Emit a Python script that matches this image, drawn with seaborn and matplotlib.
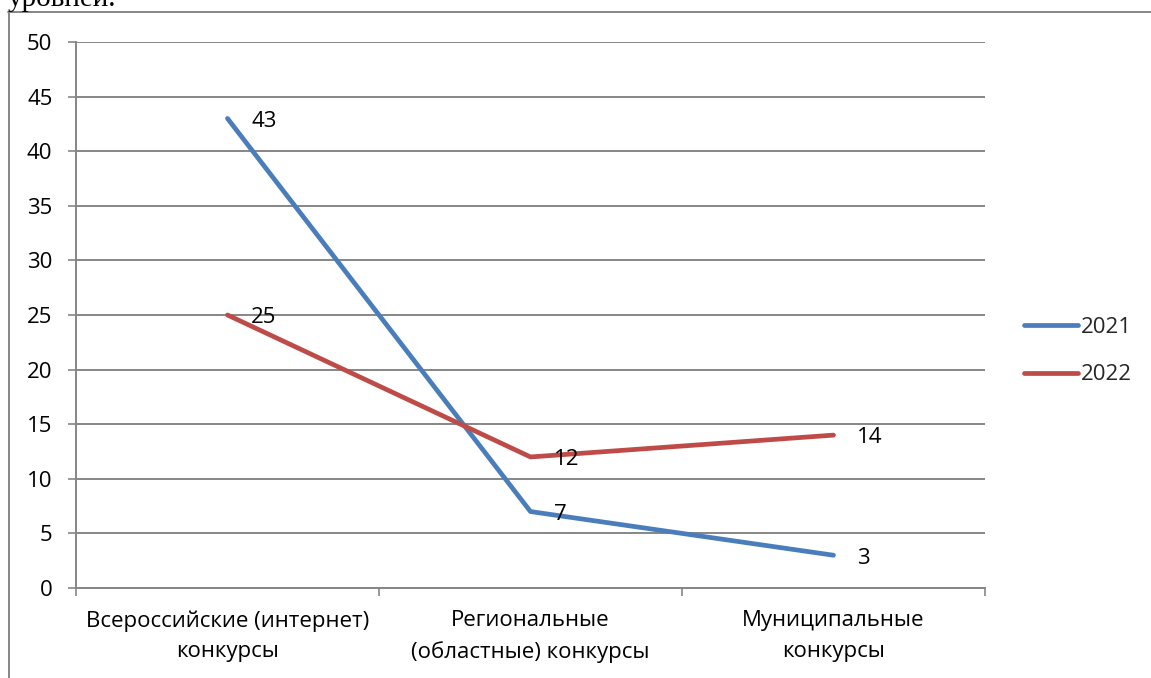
import matplotlib
matplotlib.use("Agg")
import matplotlib.pyplot as plt
import seaborn as sns
import pandas as pd
from matplotlib.lines import Line2D
from matplotlib.ticker import FixedLocator

categories = ["Всероссийские (интернет)\nконкурсы", "Региональные\n(областные) конкурсы", "Муниципальные\nконкурсы"]
series_2021 = [43, 7, 3]
series_2022 = [25, 12, 14]
series_names = ["2021", "2022"]
y_ticks = [0, 5, 10, 15, 20, 25, 30, 35, 40, 45, 50]

sns.set_theme(style="white")
plt.rcParams['font.family'] = ['Open Sans', 'DejaVu Sans']

df = pd.DataFrame({
    "cat": categories * 2,
    "val": series_2021 + series_2022,
    "year": [series_names[0]] * 3 + [series_names[1]] * 3,
})

colors = {"2021": "#4A7EBB", "2022": "#BE4B48"}
grid_c = "#868686"
fs = 16

fig = plt.figure(figsize=(11.51, 6.78), dpi=100)
ax = fig.add_axes([76/1151, 1-588/678, (985-76)/1151, (588-42)/678])

sns.lineplot(data=df, x="cat", y="val", hue="year", palette=colors, linewidth=3.4,
             ax=ax, legend=False, sort=False)

ax.set_xlim(-0.5, 2.5)
ax.set_ylim(0, 50)
ax.set_yticks(y_ticks)
ax.set_yticklabels([str(t) for t in y_ticks], fontsize=fs, color="black")
ax.grid(axis="y", color=grid_c, linewidth=1.4)
ax.set_axisbelow(True)
ax.tick_params(axis="y", length=6, width=1.2, color=grid_c, pad=11, left=True)
ax.set_xticks([0, 1, 2])
ax.set_xticklabels(categories, fontsize=fs, color="black", linespacing=1.6)
ax.tick_params(axis="x", which="major", length=0, pad=16)
ax.xaxis.set_minor_locator(FixedLocator([-0.5, 0.5, 1.5, 2.5]))
ax.tick_params(axis="x", which="minor", length=6, width=1.2, color=grid_c, bottom=True)
ax.set_xlabel("")
ax.set_ylabel("")
for s in ["top", "right"]:
    ax.spines[s].set_visible(False)
for s in ["left", "bottom"]:
    ax.spines[s].set_color(grid_c)
    ax.spines[s].set_linewidth(1.4)

for vals in (series_2021, series_2022):
    for i, v in enumerate(vals):
        ax.annotate(str(v), (i, v), xytext=(17, -2), textcoords="offset points",
                    fontsize=fs, va="center", ha="left", color="black")

handles = [Line2D([], [], color=colors[n], linewidth=3.4, solid_capstyle="round") for n in series_names]
fig.legend(handles, series_names, loc="center left", bbox_to_anchor=(1004/1151, 1-351/678),
           frameon=False, fontsize=fs, handlelength=2.45, handletextpad=0.1, labelspacing=1.2)

# outer frame lines
fig.add_artist(Line2D([8/1151, 1], [1-12/678, 1-12/678], color=grid_c, linewidth=1.4, transform=fig.transFigure))
fig.add_artist(Line2D([9/1151, 9/1151], [0, 1-12/678], color=grid_c, linewidth=1.4, transform=fig.transFigure))
fig.text(8/1151, 1-6/678, "уровней.", fontsize=21, family="Liberation Serif", va="baseline", ha="left", color="black")

fig.savefig("out.png", dpi=100)
